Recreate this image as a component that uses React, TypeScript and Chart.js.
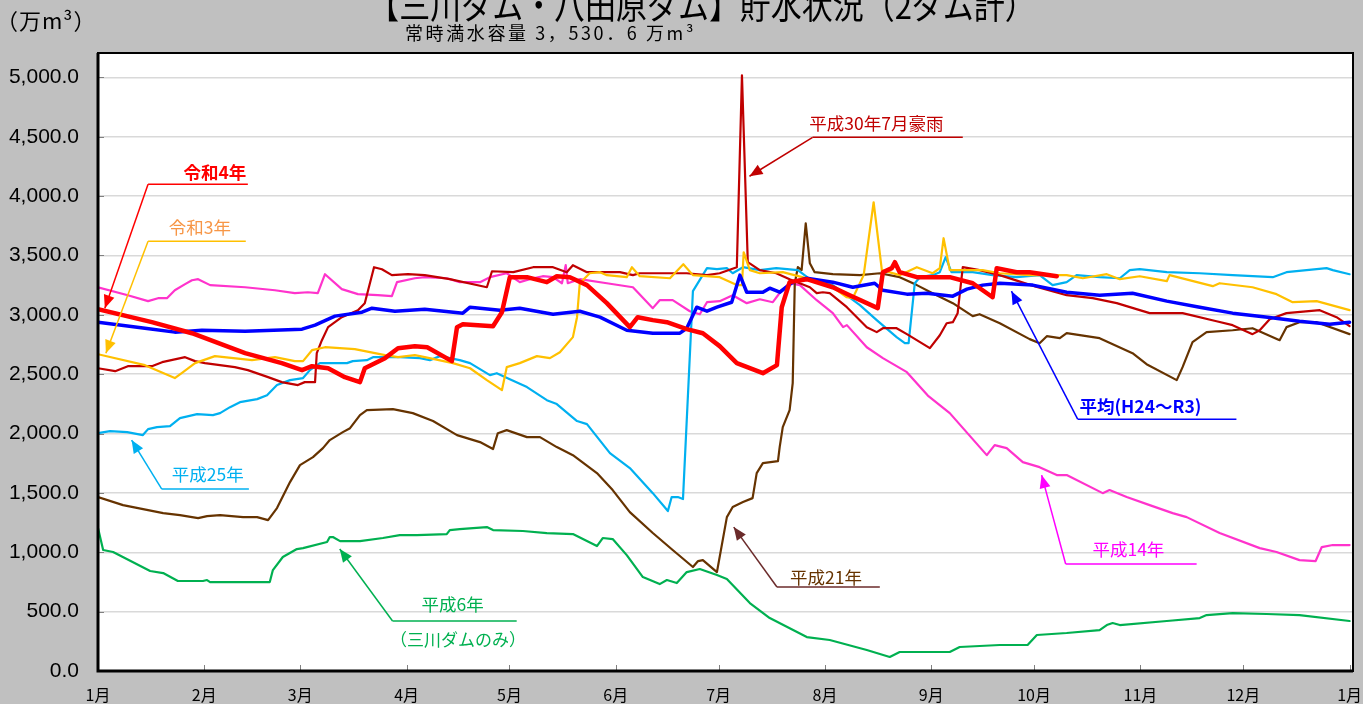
import React, { useEffect, useRef } from 'react';
import { Chart, registerables } from 'chart.js';

Chart.register(...registerables);

// ---- axis definitions ----
const monthDays = [0, 31, 59, 90, 120, 151, 181, 212, 243, 273, 304, 334, 365];
const monthLabels = ['1月', '2月', '3月', '4月', '5月', '6月', '7月', '8月', '9月', '10月', '11月', '12月', '1月'];
const yTicks = [0, 500, 1000, 1500, 2000, 2500, 3000, 3500, 4000, 4500, 5000];

// ---- series (day of year, 万m3) ----
const r4Days = [0, 15.7, 27.4, 42.9, 53.6, 59.5, 62.4, 67.1, 72, 76.4, 77.8, 83.7, 87.5, 92.4, 96, 103.2, 104.7, 106.4, 115.2, 117.8, 120.1, 125.1, 130.9, 133.8, 137.6, 142.6, 148.4, 155.1, 157.4, 161.8, 165.9, 171.7, 176.4, 181.3, 186.3, 193.9, 198, 199.4, 201.7, 206.7, 214.3, 219.2, 227.4, 228.9, 231.5, 232.4, 233.8, 238.8, 248.4, 255.1, 260.9, 262.1, 267.9, 271.7, 279.6];
const r4Vals = [3047, 2938, 2845, 2677, 2593, 2534, 2567, 2550, 2475, 2433, 2550, 2635, 2719, 2736, 2727, 2610, 2896, 2921, 2904, 3022, 3317, 3317, 3275, 3325, 3317, 3250, 3098, 2896, 2980, 2955, 2938, 2879, 2845, 2736, 2593, 2508, 2576, 3064, 3275, 3300, 3232, 3165, 3056, 3359, 3393, 3443, 3359, 3317, 3317, 3266, 3148, 3393, 3359, 3359, 3325];

const avgDays = [0, 13.7, 22.4, 30.3, 42.9, 59.5, 63.3, 69.1, 77, 79.9, 86.6, 95.3, 106.4, 108.5, 117.2, 123, 132.7, 140.5, 146.4, 154.2, 161.8, 169.7, 171.7, 174.6, 177.6, 180.5, 184.8, 187.2, 189.2, 193.9, 195.9, 198.8, 202.6, 206.7, 214.3, 220.1, 226.5, 228.9, 235.9, 241.7, 249.3, 253.4, 258, 263, 272.6, 282.5, 292.1, 301.7, 311.7, 321.3, 330.9, 341.1, 350.4, 359.2, 365];
const avgVals = [2938, 2887, 2854, 2870, 2862, 2879, 2913, 2989, 3022, 3056, 3030, 3047, 3014, 3064, 3039, 3056, 3005, 3030, 2980, 2870, 2845, 2845, 2887, 3064, 3030, 3064, 3106, 3334, 3190, 3190, 3224, 3190, 3275, 3308, 3275, 3232, 3266, 3207, 3174, 3182, 3157, 3216, 3250, 3266, 3250, 3190, 3165, 3182, 3115, 3064, 3014, 2980, 2946, 2921, 2938];

const r3Days = [0, 13.7, 22.4, 24.8, 28.3, 34.1, 44.9, 51.6, 57.4, 59.8, 62.4, 66.2, 74.9, 83.7, 87.5, 92.4, 95.3, 103.5, 108.5, 113.4, 117.8, 119.2, 123, 128, 131.8, 134.7, 138.5, 139.7, 140.5, 143.4, 146.4, 148.4, 154.2, 155.7, 158, 166.8, 170.7, 173.5, 181.3, 186.3, 187.8, 188.3, 190.1, 193, 199.7, 207.6, 214.3, 218.4, 220.1, 223.3, 226.2, 228.6, 233.8, 238.8, 243.4, 245.5, 246.6, 248.4, 258, 263, 271.7, 282.5, 287.2, 294.2, 298, 303.8, 311.7, 312.5, 325.1, 327.1, 336.7, 343.7, 348.4, 355.4, 365];
const r3Vals = [2668, 2576, 2467, 2517, 2593, 2652, 2618, 2643, 2610, 2610, 2702, 2727, 2711, 2660, 2643, 2660, 2643, 2593, 2550, 2450, 2365, 2559, 2593, 2652, 2635, 2685, 2812, 2980, 3266, 3350, 3359, 3334, 3317, 3401, 3325, 3308, 3426, 3334, 3317, 3250, 3250, 3527, 3376, 3350, 3359, 3300, 3232, 3148, 3140, 3334, 3948, 3376, 3334, 3401, 3350, 3393, 3645, 3376, 3376, 3350, 3334, 3334, 3308, 3342, 3300, 3325, 3283, 3334, 3241, 3266, 3232, 3174, 3106, 3115, 3039];

const h30Days = [0, 5, 8.7, 15.7, 18.7, 25.4, 28.3, 31.2, 39.9, 43.7, 49.6, 53.6, 58.3, 60.3, 63.3, 63.8, 65.3, 67.1, 71.1, 75.8, 77.8, 80.5, 82.8, 85.7, 90.4, 95.3, 102.6, 113.4, 114.9, 121.1, 126.9, 132.7, 136.7, 138.5, 142.6, 152.2, 156, 158, 171.7, 177.6, 181.3, 186.3, 187.8, 189.5, 193, 197.8, 201.7, 207.6, 209.6, 211.4, 213.4, 218.4, 224.2, 227.1, 228.9, 232.9, 235.9, 242.6, 245.5, 247.5, 249.3, 250.7, 252.2, 257.1, 263, 272, 282.5, 290.1, 297.1, 306.7, 316.3, 326.2, 330.9, 336.7, 338.8, 341.7, 346.6, 356.3, 361.2, 365];
const h30Vals = [2550, 2525, 2567, 2567, 2601, 2643, 2610, 2593, 2559, 2534, 2475, 2433, 2408, 2433, 2433, 2677, 2786, 2896, 2980, 3039, 3098, 3401, 3384, 3334, 3342, 3334, 3300, 3232, 3367, 3359, 3401, 3401, 3359, 3418, 3359, 3359, 3334, 3350, 3350, 3334, 3350, 3401, 5017, 3443, 3376, 3350, 3300, 3232, 3182, 3190, 3182, 3064, 2896, 2854, 2887, 2887, 2837, 2719, 2828, 2929, 2938, 3014, 3401, 3376, 3334, 3250, 3165, 3140, 3098, 3014, 3014, 2946, 2913, 2837, 2870, 2963, 3014, 3039, 2980, 2904];

const h25Days = [0, 3.5, 8.5, 13.1, 14.6, 17.2, 21, 23.9, 28.9, 33.5, 35.6, 38.5, 41.4, 46.4, 49.3, 52.2, 56, 59.8, 61.8, 64.7, 72.6, 74.3, 78.4, 80.2, 88, 93.9, 96.8, 99.7, 105.5, 108.5, 114.3, 116.3, 120.1, 125.1, 130.9, 133.8, 139.7, 142.6, 149.3, 155.1, 161.8, 166.2, 167.3, 169.1, 170.6, 173.5, 177.6, 180.5, 183.4, 185.1, 188.1, 193, 197.8, 204.1, 207.6, 214.3, 222.2, 227.1, 232.9, 235.3, 236.4, 238.2, 239.7, 243.4, 245.5, 247.2, 248.9, 255.1, 260.9, 267.9, 274.6, 278.4, 282.5, 285.4, 292.1, 298, 300.9, 303.8, 311.7, 321.3, 330.9, 342.6, 346.6, 355.4, 358.3, 360.1, 365];
const h25Vals = [2003, 2020, 2012, 1987, 2037, 2054, 2062, 2130, 2163, 2155, 2172, 2222, 2264, 2290, 2323, 2408, 2450, 2467, 2534, 2593, 2593, 2610, 2618, 2643, 2643, 2635, 2618, 2652, 2618, 2593, 2492, 2508, 2458, 2391, 2281, 2248, 2105, 2079, 1835, 1709, 1498, 1347, 1465, 1465, 1448, 3200, 3393, 3384, 3393, 3350, 3401, 3376, 3393, 3376, 3300, 3250, 3081, 2955, 2812, 2761, 2761, 3266, 3317, 3334, 3359, 3485, 3359, 3359, 3334, 3317, 3334, 3250, 3275, 3334, 3317, 3308, 3376, 3384, 3359, 3350, 3334, 3317, 3359, 3384, 3393, 3376, 3342];

const h21Days = [0, 7.3, 19, 23.9, 29.2, 31.8, 35.6, 42.3, 46.4, 49.6, 52.2, 56, 58.9, 62.7, 65.6, 67.6, 71.4, 73.5, 76.4, 78.4, 86, 91.8, 97.7, 104.7, 111.4, 115.2, 116.6, 119.2, 125.1, 128.9, 133.8, 138.5, 145.5, 150.1, 155.1, 161.8, 167.6, 173.5, 175, 176.4, 180.5, 183.4, 185.1, 188.1, 190.9, 192.1, 193.9, 198.3, 198.8, 199.7, 201.7, 202.6, 203.2, 204.1, 205.2, 206.4, 207.6, 209, 214.3, 222.2, 228, 233.8, 238.8, 243.4, 249.3, 255.1, 257.1, 263, 271.7, 274.6, 276.7, 280.5, 282.5, 292.1, 301.7, 305.8, 314.6, 316.3, 319.2, 323.3, 330.9, 336.7, 344.6, 346.6, 350.4, 355.4, 365];
const h21Vals = [1465, 1397, 1330, 1313, 1288, 1305, 1313, 1296, 1296, 1271, 1372, 1591, 1734, 1801, 1877, 1945, 2012, 2045, 2155, 2197, 2205, 2172, 2105, 1987, 1928, 1869, 2003, 2029, 1970, 1970, 1886, 1818, 1667, 1524, 1338, 1162, 1019, 876, 926, 934, 833, 1296, 1381, 1423, 1456, 1667, 1751, 1768, 1886, 2054, 2197, 2424, 3266, 3401, 3376, 3771, 3434, 3359, 3342, 3334, 3350, 3317, 3250, 3182, 3098, 2989, 3005, 2929, 2795, 2761, 2820, 2803, 2845, 2803, 2677, 2584, 2450, 2559, 2770, 2854, 2870, 2887, 2786, 2896, 2938, 2938, 2837];

const h14Days = [0, 8.7, 14.6, 17.5, 20.1, 22.4, 25.4, 27.4, 29.2, 32.7, 42.9, 51.6, 57.4, 61.2, 64.1, 66.2, 71.1, 75.8, 81.6, 85.7, 87.2, 92.4, 95.3, 101.7, 105.5, 111.4, 114.3, 119.2, 123, 125.9, 129.7, 132.7, 135.3, 136.4, 137, 140.5, 148.4, 156, 161.8, 163.8, 167.6, 172.6, 175.5, 177.6, 181.3, 185.1, 189.2, 193, 196.8, 199.4, 201.7, 204.7, 209.6, 214.3, 217.3, 218.4, 224.2, 228.9, 235.9, 242, 248.4, 259.2, 261.5, 265, 269.7, 274.6, 279.6, 282.5, 293, 295, 300, 306.7, 313.4, 317.5, 327.1, 338.8, 343.7, 350.4, 355.1, 356.9, 360.1, 365];
const h14Vals = [3232, 3165, 3115, 3140, 3140, 3207, 3258, 3291, 3300, 3250, 3232, 3207, 3182, 3190, 3182, 3342, 3216, 3174, 3165, 3157, 3275, 3308, 3317, 3308, 3275, 3275, 3317, 3350, 3275, 3300, 3325, 3317, 3266, 3418, 3266, 3300, 3266, 3232, 3056, 3123, 3123, 3030, 3005, 3106, 3115, 3165, 3098, 3131, 3106, 3207, 3266, 3250, 3123, 3014, 2896, 2913, 2727, 2635, 2517, 2320, 2172, 1818, 1902, 1877, 1759, 1717, 1650, 1650, 1498, 1524, 1465, 1397, 1330, 1296, 1162, 1035, 1002, 934, 926, 1044, 1061, 1061];

const h6Days = [0, 1.5, 4.4, 15.2, 19, 23.3, 30.6, 31.8, 32.7, 50.1, 51, 53.9, 58, 59.8, 66.8, 67.6, 68.5, 70.6, 76.4, 83.1, 88, 93, 101.7, 102.6, 105.5, 109.4, 113.4, 115.2, 123.9, 130.9, 138.5, 145.5, 147.2, 150.1, 154.2, 158.9, 163.8, 165.9, 168.8, 171.7, 175.5, 180.5, 183.4, 190.1, 195.9, 206.7, 213.4, 224.2, 230.9, 233.8, 248.4, 251.3, 263, 271.1, 273.8, 282.5, 292.1, 294.2, 295.9, 298, 311.7, 321.3, 323.3, 330.9, 340.8, 350.4, 365];
const h6Vals = [1204, 1019, 1002, 842, 825, 758, 758, 766, 749, 749, 850, 960, 1027, 1035, 1086, 1128, 1128, 1094, 1094, 1120, 1145, 1145, 1153, 1187, 1195, 1204, 1212, 1187, 1179, 1162, 1153, 1052, 1120, 1111, 976, 791, 732, 766, 741, 833, 859, 808, 775, 572, 446, 286, 261, 177, 118, 160, 160, 202, 219, 219, 303, 320, 345, 387, 404, 387, 421, 446, 471, 488, 480, 471, 421];

// ---- callouts (anchored in data coordinates) ----
const callouts = [
  { text: '令和4年', textColor: '#FF0000', lineColor: '#FF0000', bold: true, textDay: 34.1, textVal: 4142, elbowDay: 14.6, endDay: 43.7, lineVal: 4100, tipDay: 2.0, tipVal: 3056 },
  { text: '令和3年', textColor: '#F79646', lineColor: '#FFC000', bold: false, textDay: 29.7, textVal: 3679, elbowDay: 14.6, endDay: 43.1, lineVal: 3620, tipDay: 2.3, tipVal: 2677 },
  { text: '平成30年7月豪雨', textColor: '#C00000', lineColor: '#C00000', bold: false, textDay: 227, textVal: 4554, elbowDay: 208.4, endDay: 252.2, lineVal: 4495, tipDay: 190, tipVal: 4167 },
  { text: '平成25年', textColor: '#00B0F0', lineColor: '#00B0F0', bold: false, textDay: 32, textVal: 1599, elbowDay: 18.6, endDay: 44, lineVal: 1532, tipDay: 9.8, tipVal: 1945 },
  { text: '平成6年', textColor: '#00B050', lineColor: '#00B050', bold: false, textDay: 103.4, textVal: 505, elbowDay: 85.9, endDay: 122.1, lineVal: 421, tipDay: 70.5, tipVal: 1027 },
  { text: '平成21年', textColor: '#663300', lineColor: '#6B2B2B', bold: false, textDay: 212.3, textVal: 732, elbowDay: 198, endDay: 228, lineVal: 707, tipDay: 185.4, tipVal: 1212 },
  { text: '平均(H24～R3)', textColor: '#0000FF', lineColor: '#0000FF', bold: true, textDay: 304, textVal: 2172, elbowDay: 285.7, endDay: 332, lineVal: 2121, tipDay: 266.4, tipVal: 3199 },
  { text: '平成14年', textColor: '#FF00FF', lineColor: '#FF00FF', bold: false, textDay: 300.5, textVal: 968, elbowDay: 282.2, endDay: 320.4, lineVal: 901, tipDay: 275.2, tipVal: 1650 },
];
const extraNotes = [{ text: '（三川ダムのみ）', color: '#00B050', day: 105, val: 210 }];

const JP = '"Noto Sans CJK JP", "Noto Sans", sans-serif';

const toXY = (days: number[], vals: number[]) => days.map((d, i) => ({ x: d, y: vals[i] }));

const bgPlugin = {
  id: 'bg',
  beforeDraw(chart: any) {
    const { ctx, chartArea: a, width, height } = chart;
    ctx.save();
    ctx.fillStyle = '#C0C0C0';
    ctx.fillRect(0, 0, width, height);
    ctx.fillStyle = '#FFFFFF';
    ctx.fillRect(a.left, a.top, a.right - a.left, a.bottom - a.top);
    ctx.restore();
  },
};

function arrow(ctx: CanvasRenderingContext2D, x1: number, y1: number, x2: number, y2: number, color: string) {
  ctx.strokeStyle = color;
  ctx.lineWidth = 1.5;
  ctx.beginPath();
  ctx.moveTo(x1, y1);
  ctx.lineTo(x2, y2);
  ctx.stroke();
  const ang = Math.atan2(y2 - y1, x2 - x1);
  const L = 13, W = 5.5;
  const bx = x2 - L * Math.cos(ang), by = y2 - L * Math.sin(ang);
  ctx.fillStyle = color;
  ctx.beginPath();
  ctx.moveTo(x2, y2);
  ctx.lineTo(bx + W * Math.sin(ang), by - W * Math.cos(ang));
  ctx.lineTo(bx - W * Math.sin(ang), by + W * Math.cos(ang));
  ctx.closePath();
  ctx.fill();
}

const overlayPlugin = {
  id: 'overlay',
  afterDatasetsDraw(chart: any) {
    const { ctx, chartArea: a, scales } = chart;
    const xs = scales.x, ys = scales.y;
    ctx.save();
    // inner tick marks
    ctx.strokeStyle = '#808080';
    ctx.lineWidth = 1;
    monthDays.forEach((d) => {
      const px = Math.round(xs.getPixelForValue(d)) + 0.5;
      ctx.beginPath();
      ctx.moveTo(px, a.bottom);
      ctx.lineTo(px, a.bottom - 6);
      ctx.stroke();
    });
    yTicks.forEach((v) => {
      const py = Math.round(ys.getPixelForValue(v)) + 0.5;
      ctx.beginPath();
      ctx.moveTo(a.left, py);
      ctx.lineTo(a.left + 6, py);
      ctx.stroke();
    });
    // frame
    ctx.strokeStyle = '#000000';
    ctx.lineWidth = 2;
    ctx.strokeRect(a.left, a.top, a.right - a.left, a.bottom - a.top);
    ctx.lineWidth = 3;
    ctx.beginPath();
    ctx.moveTo(a.left, a.top);
    ctx.lineTo(a.left, a.bottom);
    ctx.lineTo(a.right, a.bottom);
    ctx.stroke();

    // callouts
    callouts.forEach((c) => {
      const ex = xs.getPixelForValue(c.elbowDay);
      const endX = xs.getPixelForValue(c.endDay);
      const ly = ys.getPixelForValue(c.lineVal);
      const tx = xs.getPixelForValue(c.tipDay);
      const ty = ys.getPixelForValue(c.tipVal);
      ctx.strokeStyle = c.lineColor;
      ctx.lineWidth = 1.5;
      ctx.beginPath();
      ctx.moveTo(endX, ly);
      ctx.lineTo(ex, ly);
      ctx.stroke();
      arrow(ctx, ex, ly, tx, ty, c.lineColor);
      ctx.fillStyle = c.textColor;
      ctx.font = `${c.bold ? 'bold ' : ''}17.5px ${JP}`;
      ctx.textAlign = 'center';
      ctx.textBaseline = 'alphabetic';
      ctx.fillText(c.text, xs.getPixelForValue(c.textDay), ys.getPixelForValue(c.textVal));
    });
    extraNotes.forEach((n) => {
      ctx.fillStyle = n.color;
      ctx.font = `17px ${JP}`;
      ctx.textAlign = 'center';
      ctx.textBaseline = 'alphabetic';
      ctx.fillText(n.text, xs.getPixelForValue(n.day), ys.getPixelForValue(n.val));
    });
    ctx.restore();
  },
  afterDraw(chart: any) {
    const { ctx } = chart;
    ctx.save();
    ctx.fillStyle = '#000000';
    ctx.textBaseline = 'alphabetic';
    // main title (partly above the top edge, as in the reference)
    ctx.save();
    ctx.translate(702, 19);
    ctx.scale(0.86, 1);
    ctx.textAlign = 'center';
    ctx.font = `36px ${JP}`;
    ctx.fillText('【三川ダム・八田原ダム】貯水状況（2ダム計）', 0, 0);
    ctx.restore();
    ctx.textAlign = 'left';
    ctx.font = `18px ${JP}`;
    (ctx as any).letterSpacing = '2.6px';
    ctx.fillText('常時満水容量 3，530．6 万m³', 405, 40);
    ctx.font = `22px ${JP}`;
    (ctx as any).letterSpacing = '1px';
    ctx.fillText('（万m³）', -4, 29);
    (ctx as any).letterSpacing = '0px';
    ctx.restore();
  },
};

export default function App() {
  const ref = useRef<HTMLCanvasElement | null>(null);
  useEffect(() => {
    if (!ref.current) return;
    const mk = (label: string, days: number[], vals: number[], color: string, width: number) => ({
      label,
      data: toXY(days, vals),
      borderColor: color,
      backgroundColor: color,
      borderWidth: width,
      pointRadius: 0,
      fill: false,
      tension: 0,
    });
    const chart = new Chart(ref.current, {
      type: 'line',
      data: {
        datasets: [
          mk('令和4年', r4Days, r4Vals, '#FF0000', 4.5),
          mk('平均(H24～R3)', avgDays, avgVals, '#0000FF', 3.5),
          mk('令和3年', r3Days, r3Vals, '#FFC000', 2.2),
          mk('平成30年', h30Days, h30Vals, '#C00000', 2.2),
          mk('平成25年', h25Days, h25Vals, '#00B0F0', 2.2),
          mk('平成21年', h21Days, h21Vals, '#663300', 2.2),
          mk('平成14年', h14Days, h14Vals, '#FF33CC', 2.2),
          mk('平成6年', h6Days, h6Vals, '#00B050', 2.2),
        ],
      },
      options: {
        animation: false,
        responsive: false,
        layout: { padding: { top: 53, right: 10, left: 0, bottom: 0 } },
        plugins: { legend: { display: false }, tooltip: { enabled: false }, title: { display: false } },
        elements: { line: { borderJoinStyle: 'round', borderCapStyle: 'round' }, point: { radius: 0 } },
        scales: {
          x: {
            type: 'linear',
            min: 0,
            max: 366,
            grid: { display: false, drawTicks: false },
            border: { display: false },
            afterBuildTicks: (s: any) => {
              s.ticks = monthDays.map((v) => ({ value: v }));
            },
            afterFit: (s: any) => {
              s.height = 33;
              s.paddingLeft = 0;
              s.paddingRight = 0;
            },
            ticks: {
              autoSkip: false,
              maxRotation: 0,
              padding: 14,
              color: '#000000',
              font: { family: JP, size: 16 },
              callback: (_v: any, i: number) => monthLabels[i],
            },
          },
          y: {
            type: 'linear',
            min: 0,
            max: 5205,
            afterBuildTicks: (s: any) => {
              s.ticks = yTicks.map((v) => ({ value: v }));
            },
            afterFit: (s: any) => {
              s.width = 98;
              s.paddingTop = 0;
              s.paddingBottom = 0;
            },
            grid: { color: '#D9D9D9', lineWidth: 1.5, drawTicks: false },
            border: { display: false },
            ticks: {
              padding: 19,
              color: '#000000',
              font: { family: '"Liberation Sans", Arial, sans-serif', size: 21 },
              callback: (v: any) =>
                Number(v).toLocaleString('en-US', { minimumFractionDigits: 1, maximumFractionDigits: 1 }),
            },
          },
        },
      } as any,
      plugins: [bgPlugin, overlayPlugin],
    });
    return () => chart.destroy();
  }, []);
  return (
    <div style={{ position: 'fixed', left: 0, top: 0, width: 1363, height: 704 }}>
      <canvas ref={ref} width={1363} height={704} style={{ display: 'block', width: 1363, height: 704 }} />
    </div>
  );
}
